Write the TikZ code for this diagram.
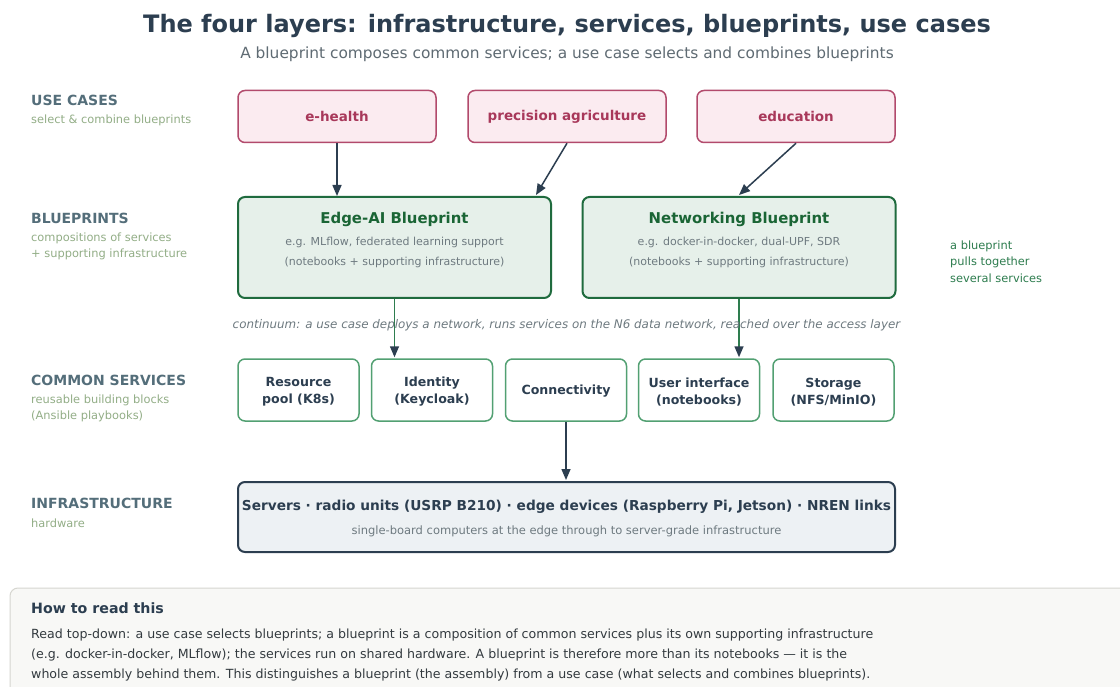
\documentclass[tikz,border=0pt]{standalone}
\usepackage{fontspec}
\setmainfont{DejaVu Sans}
\usetikzlibrary{arrows.meta,calc}
\newcommand{\fsz}[1]{\fontsize{#1}{#1}\selectfont}
\definecolor{ink}{HTML}{2C3E50}
\definecolor{subgray}{HTML}{5F6B73}
\definecolor{layerlbl}{HTML}{546E7A}
\definecolor{layersub}{HTML}{93AE87}
\definecolor{ucfill}{HTML}{FBEBF0}
\definecolor{ucdraw}{HTML}{B24A6C}
\definecolor{uctext}{HTML}{A8385A}
\definecolor{bpfill}{HTML}{E6F0EA}
\definecolor{bpdraw}{HTML}{1F6B3E}
\definecolor{bptext}{HTML}{1A6535}
\definecolor{smallgray}{HTML}{6E7A80}
\definecolor{svcdraw}{HTML}{52A072}
\definecolor{infrafill}{HTML}{EDF1F4}
\definecolor{notegreen}{HTML}{2E7D4F}
\definecolor{panelfill}{HTML}{F8F8F6}
\definecolor{paneldraw}{HTML}{D6D6D0}
\definecolor{bodytext}{HTML}{333A3F}
\tikzset{
  ucbox/.style={draw=ucdraw, fill=ucfill, line width=1.5pt, rounded corners=7pt,
    minimum width=198pt, minimum height=52pt, inner sep=0pt,
    font=\fsz{13.5}\bfseries, text=uctext},
  bpbox/.style={draw=bpdraw, fill=bpfill, line width=2pt, rounded corners=7pt,
    minimum width=313pt, minimum height=101pt, inner sep=0pt},
  bptitle/.style={font=\fsz{14.9}\bfseries, text=bptext, inner sep=0pt},
  bpline/.style={font=\fsz{11}, text=smallgray, inner sep=0pt},
  svcbox/.style={draw=svcdraw, fill=white, line width=1.5pt, rounded corners=7pt,
    minimum width=121pt, minimum height=62pt, inner sep=0pt},
  svctext/.style={inner sep=0pt, align=center,
    font=\fontsize{12.6}{17}\selectfont\bfseries, text=ink},
  infrabox/.style={draw=ink, fill=infrafill, line width=2pt, rounded corners=7pt,
    minimum width=657pt, minimum height=70pt, inner sep=0pt},
  layername/.style={anchor=west, inner sep=0pt, font=\fsz{14}\bfseries, text=layerlbl},
  layerdesc/.style={anchor=west, inner sep=0pt, font=\fsz{11.4}, text=layersub},
  notetext/.style={anchor=west, inner sep=0pt, font=\fsz{11.4}, text=notegreen},
  bodyline/.style={anchor=west, inner sep=0pt, font=\fsz{12.6}, text=bodytext},
  darrow/.style={draw=ink, line width=1.5pt, -{Triangle[length=11pt,width=9pt]}},
  garrow/.style={draw=notegreen, line width=1.5pt, -{Triangle[length=11pt,width=9pt,color=ink,fill=ink]}},
}
\begin{document}
\begin{tikzpicture}[x=1pt,y=-1pt]
\useasboundingbox (0,0) rectangle (1120,687);
\fill[white] (0,0) rectangle (1120,687);

% heading
\node[font=\fsz{24}\bfseries, text=ink, inner sep=0pt] (title) at (567,25.5)
  {The four layers: infrastructure, services, blueprints, use cases};
\node[font=\fsz{15.4}, text=subgray, inner sep=0pt] (subtitle) at (567,54)
  {A blueprint composes common services; a use case selects and combines blueprints};

% layer labels on the left
\node[layername] (l1) at (31,100.5) {USE CASES};
\node[layerdesc] (l1a) at (31,120) {select \& combine blueprints};
\node[layername] (l2) at (31,218.5) {BLUEPRINTS};
\node[layerdesc] (l2a) at (31,238.5) {compositions of services};
\node[layerdesc] (l2b) at (31,254.5) {+ supporting infrastructure};
\node[layername] (l3) at (31,380.5) {COMMON SERVICES};
\node[layerdesc] (l3a) at (31,400.5) {reusable building blocks};
\node[layerdesc] (l3b) at (31,416.5) {(Ansible playbooks)};
\node[layername] (l4) at (31,503.5) {INFRASTRUCTURE};
\node[layerdesc] (l4a) at (31,523.5) {hardware};

% use cases
\node[ucbox] (eh) at (337,116.5) {e-health};
\node[ucbox] (pa) at (567,116.5) {precision agriculture};
\node[ucbox] (ed) at (796,116.5) {education};

% blueprints
\node[bpbox] (ea) at (394.5,247.5) {};
\node[bptitle] (eat) at (394.5,219) {Edge-AI Blueprint};
\node[bpline] (ea1) at (394.5,242) {e.g. MLflow, federated learning support};
\node[bpline] (ea2) at (394.5,262) {(notebooks + supporting infrastructure)};
\node[bpbox] (nb) at (739,247.5) {};
\node[bptitle] (nbt) at (739,219) {Networking Blueprint};
\node[bpline] (nb1) at (739,242) {e.g. docker-in-docker, dual-UPF, SDR};
\node[bpline] (nb2) at (739,262) {(notebooks + supporting infrastructure)};

\node[notetext] (note1) at (950,246.5) {a blueprint};
\node[notetext] (note2) at (950,262.5) {pulls together};
\node[notetext] (note3) at (950,278.5) {several services};

% common services
\node[svcbox] (rp) at (298.5,390) {};
\node[svcbox] (id) at (432,390) {};
\node[svcbox] (cn) at (566,390) {};
\node[svcbox] (ui) at (699,390) {};
\node[svcbox] (st) at (833.5,390) {};
\node[svctext] (rpt) at (298.5,392) {Resource\\pool (K8s)};
\node[svctext] (idt) at (432,392) {Identity\\(Keycloak)};
\node[svctext] (cnt) at (566,391) {Connectivity};
\node[svctext] (uit) at (699,392) {User interface\\(notebooks)};
\node[svctext] (stt) at (833.5,392) {Storage\\(NFS/MinIO)};

% infrastructure
\node[infrabox] (inf) at (566.5,517) {};
\node[font=\fsz{13.7}\bfseries, text=ink, inner sep=0pt] (inft) at (566.5,506.5)
  {Servers · radio units (USRP B210) · edge devices (Raspberry Pi, Jetson) · NREN links};
\node[font=\fsz{11.5}, text=smallgray, inner sep=0pt] (infs) at (566.5,531.5)
  {single-board computers at the edge through to server-grade infrastructure};

% connectors
\draw[darrow] (eh.south) -- (eh.south |- ea.north);
\draw[darrow] (pa.south) -- ($(ea.north east)+(-16,-1)$);
\draw[darrow] (ed.south) -- ($(nb.north)+(0,-1)$);
\draw[garrow] (ea.south) -- ($(ea.south |- id.north)+(0,-1)$);
\draw[garrow] (nb.south) -- ($(nb.south |- ui.north)+(0,-1)$);
\draw[darrow] (cn.south) -- ($(cn.south |- inf.north)+(0,-1)$);

% continuum caption, drawn over the green connectors
\node[font=\fsz{11.9}\itshape, text=smallgray, inner sep=0pt] (cont) at (566.5,325.5)
  {continuum: a use case deploys a network, runs services on the N6 data network, reached over the access layer};

% reading guide
\draw[fill=panelfill, draw=paneldraw, line width=1pt, rounded corners=8pt] (10,588) rectangle (1135,700);
\node[anchor=west, inner sep=0pt, font=\fsz{14.2}\bfseries, text=ink] (howt) at (31,608.5) {How to read this};
\node[bodyline] (how1) at (31,635.5)
  {Read top-down: a use case selects blueprints; a blueprint is a composition of common services plus its own supporting infrastructure};
\node[bodyline] (how2) at (31,655.5)
  {(e.g. docker-in-docker, MLflow); the services run on shared hardware. A blueprint is therefore more than its notebooks — it is the};
\node[bodyline] (how3) at (31,675.5)
  {whole assembly behind them. This distinguishes a blueprint (the assembly) from a use case (what selects and combines blueprints).};
\end{tikzpicture}
\end{document}
